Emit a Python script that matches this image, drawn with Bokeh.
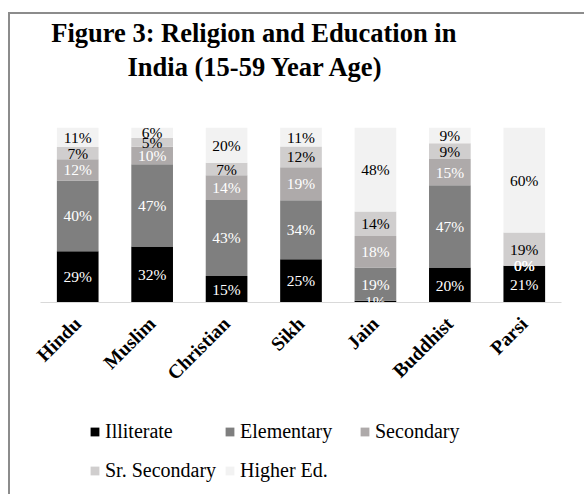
import math
from bokeh.plotting import figure
from bokeh.layouts import column
from bokeh.models import ColumnDataSource, Legend, LegendItem, Title, FactorRange
from bokeh.core.properties import value
from bokeh.embed import file_html
from bokeh.resources import INLINE

# ---- data (percent) ----
religions = ["Hindu", "Muslim", "Christian", "Sikh", "Jain", "Buddhist", "Parsi"]
illiterate = [29, 32, 15, 25, 1, 20, 21]
elementary = [40, 47, 43, 34, 19, 47, 0]
secondary = [12, 10, 14, 19, 18, 15, 0]
sr_secondary = [7, 5, 7, 12, 14, 9, 19]
higher_ed = [11, 6, 20, 11, 48, 9, 60]
series_names = ["Illiterate", "Elementary", "Secondary", "Sr. Secondary", "Higher Ed."]
title_lines = ["Figure 3: Religion and Education in", "India (15-59 Year Age)"]

# ---- styles ----
colors = ["#000000", "#7f7f7f", "#aeaaaa", "#d0cece", "#f2f2f2"]
label_colors = ["#ffffff", "#ffffff", "#ffffff", "#000000", "#000000"]
FONT = "Liberation Serif"

series_values = [illiterate, elementary, secondary, sr_secondary, higher_ed]
n = len(religions)
totals = [sum(s[i] for s in series_values) for i in range(n)]
keys = ["s%d" % k for k in range(len(series_values))]
data = {"religion": religions}
for k, vals in zip(keys, series_values):
    data[k] = [v / t for v, t in zip(vals, totals)]
source = ColumnDataSource(data)

W = 574
p = figure(x_range=FactorRange(*religions), y_range=(0, 1),
           width=W, height=390, output_backend="svg", toolbar_location=None,
           title=None, y_axis_location=None,
           min_border_left=30, min_border_right=23, min_border_top=113, min_border_bottom=102)
p.outline_line_color = None
p.xgrid.grid_line_color = None
p.ygrid.grid_line_color = None
p.background_fill_color = "white"
p.border_fill_color = "white"

renderers = p.vbar_stack(keys, x="religion", width=0.56, fill_color=colors,
                         line_color=None, source=source)

# data labels
bottoms = [0.0] * n
for k, vals in enumerate(series_values):
    fr = data[keys[k]]
    ys = [b + f / 2 for b, f in zip(bottoms, fr)]
    bottoms = [b + f for b, f in zip(bottoms, fr)]
    lsrc = ColumnDataSource(dict(x=religions, y=ys, text=["%d%%" % v for v in vals]))
    p.text(x="x", y="y", text="text", source=lsrc, text_font=value(FONT),
           text_font_size="15.5px", text_color=label_colors[k],
           text_align="center", text_baseline="middle")

# x axis
ax = p.xaxis[0]
ax.major_label_orientation = math.pi / 4
ax.major_label_text_font = FONT
ax.major_label_text_font_style = "bold"
ax.major_label_text_font_size = "19.5px"
ax.major_label_text_color = "#000000"
ax.axis_line_color = "#d9d9d9"
ax.axis_line_width = 1
ax.major_tick_line_color = None
ax.minor_tick_line_color = None
ax.major_label_standoff = 12

# title: spacer nearest the bars, then line 2, then line 1
p.add_layout(Title(text=" ", text_font_size="1px", standoff=42), "above")
p.add_layout(Title(text=title_lines[1], align="left", offset=87, text_font=FONT,
                   text_font_style="bold", text_font_size="26.5px", standoff=2,
                   text_color="#000000"), "above")
p.add_layout(Title(text=title_lines[0], align="left", offset=10.7, text_font=FONT,
                   text_font_style="bold", text_font_size="26.5px", standoff=1,
                   text_color="#000000"), "above")

# legend lives in a second, axis-free strip below the chart
p2 = figure(x_range=FactorRange(*religions), y_range=(-2, -1),
            width=W, height=90, output_backend="svg", toolbar_location=None,
            title=None, x_axis_location=None, y_axis_location=None,
            min_border_left=0, min_border_right=0, min_border_top=0, min_border_bottom=0)
p2.outline_line_color = None
p2.xgrid.grid_line_color = None
p2.ygrid.grid_line_color = None
p2.background_fill_color = "white"
p2.border_fill_color = "white"
leg_renderers = p2.vbar_stack(keys, x="religion", width=0.56, fill_color=colors,
                              line_color=None, source=source)
for r in leg_renderers:
    r.visible = False
items = [LegendItem(label=nm, renderers=[r]) for nm, r in zip(series_names, leg_renderers)]
legend = Legend(items=items, orientation="horizontal", ncols=3,
                location=(49, 7), padding=0, margin=0,
                glyph_width=11, glyph_height=11, label_standoff=5,
                label_width=114, label_height=34, spacing=5,
                label_text_font=FONT, label_text_font_size="20px",
                label_text_color="#000000", inactive_fill_alpha=0,
                border_line_color=None, background_fill_alpha=0)
p2.add_layout(legend)

layout = column(p, p2, spacing=0,
                styles={"margin-left": "8px", "margin-top": "12px",
                        "border-left": "2px solid #8c8c8c", "border-top": "2px solid #8c8c8c",
                        "background-color": "white"})

open("out.html", "w").write(file_html(layout, INLINE))
